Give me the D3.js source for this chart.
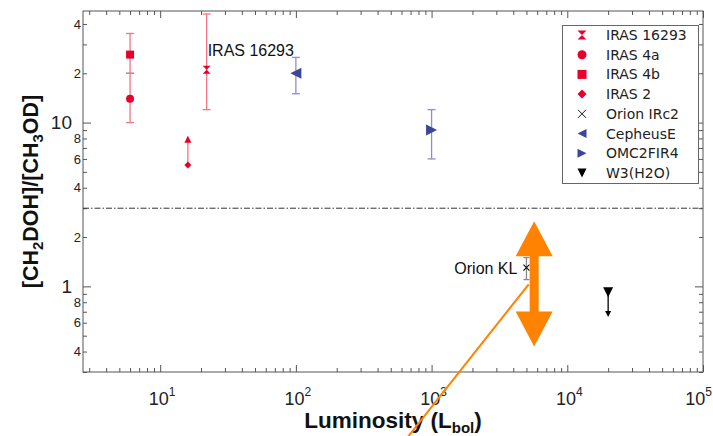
<!DOCTYPE html>
<html>
<head>
<meta charset="utf-8">
<script src="https://cdn.jsdelivr.net/npm/d3@7"></script>
<style>
  body { margin: 0; background: #fff; }
  svg { display: block; }
</style>
</head>
<body>
<svg id="chart" width="713" height="436"></svg>
<script>
// ---- data ----
const sources    = ["IRAS 16293", "IRAS 4a", "IRAS 4b", "IRAS 2", "Orion IRc2", "CepheusE", "OMC2FIR4", "W3(H2O)"];
const luminosity = [22, 6, 6, 16, 5000, 100, 1000, 20000];
const ratio      = [21, 14, 26, 5.5, 1.3, 20, 9, 0.92];
const ratioLow   = [12, 10, 20, null, 1.1, 15, 6, null];
const ratioHigh  = [46, 20, 35, null, 1.5, 25, 12, null];
// limit arrows: lower limit (points up) / upper limit (points down)
const limitEnd   = [null, null, null, 8.3, null, null, null, 0.65];
const symbols    = ["hourglass", "circle", "square", "diamond", "cross", "triLeft", "triRight", "triDown"];
const markColor  = ["#e6002a", "#e6002a", "#e6002a", "#e6002a", "#111", "#3c4599", "#3c4599", "#000"];
const barColor   = ["#f07586", "#f07586", "#f07586", "#f07586", "#8a8a8a", "#8e8ecc", "#8e8ecc", "#000"];

const xTickMajor  = [10, 100, 1000, 10000, 100000];
const xTickExp    = ["1", "2", "3", "4", "5"];
const yTickBig    = [1, 10];
const yTickBigLbl = ["1", "10"];
const yTickSmall  = [0.4, 0.6, 0.8, 2, 4, 6, 8, 20, 40];
const yTickSmallLbl = ["4", "6", "8", "2", "4", "6", "8", "2", "4"];
const thresholdRatio = 3;

const pointLabels = [
  { text: "IRAS 16293", L: 22, v: 25.5, anchor: "start", dx: 1 },
  { text: "Orion KL",   L: 5000, v: 1.19, anchor: "end", dx: -9 }
];

// highlighted range arrow and pointer line
const rangeArrow = { L: 5700, top: 2.5, bottom: 0.43 };
const pointerLine = [[5200, 1.03], [640, 0.115]];

// ---- layout ----
const W = 713, H = 436;
const m = { left: 83, right: 10, top: 11, bottom: 64 };
const svg = d3.select("#chart");

const x = d3.scaleLog().domain([2.7, 1e5]).range([m.left, W - m.right]);
const y = d3.scaleLog().domain([0.3, 48]).range([H - m.bottom, m.top]);

const x0 = m.left, x1 = W - m.right, y0 = H - m.bottom, y1 = m.top;
const axisColor = "#555";

// minor tick values for a log domain
function logTicks(domain) {
  const out = [];
  const lo = Math.floor(Math.log10(domain[0])), hi = Math.ceil(Math.log10(domain[1]));
  for (let e = lo; e <= hi; e++) {
    for (let k = 1; k <= 9; k++) {
      const v = k * Math.pow(10, e);
      if (v >= domain[0] * 0.9999 && v <= domain[1] * 1.0001) out.push(+v.toPrecision(6));
    }
  }
  return out;
}
const xAll = logTicks(x.domain());
const yAll = logTicks(y.domain());
const isDecade = v => Math.abs(Math.log10(v) - Math.round(Math.log10(v))) < 1e-6;
const xMinor = xAll.filter(v => !isDecade(v));
const yMinor = yAll.filter(v => !isDecade(v));

function styleAxis(g) {
  g.select(".domain").remove();
  g.selectAll("line").attr("stroke", axisColor).attr("stroke-width", 1);
  g.selectAll("text").remove();
}

// inward ticks on all four sides
svg.append("g").attr("transform", `translate(0,${y0})`)
  .call(d3.axisBottom(x).tickValues(xMinor).tickSize(-4).tickFormat("")).call(styleAxis);
svg.append("g").attr("transform", `translate(0,${y0})`)
  .call(d3.axisBottom(x).tickValues(xTickMajor).tickSize(-7).tickFormat("")).call(styleAxis);
svg.append("g").attr("transform", `translate(0,${y1})`)
  .call(d3.axisTop(x).tickValues(xMinor).tickSize(-4).tickFormat("")).call(styleAxis);
svg.append("g").attr("transform", `translate(0,${y1})`)
  .call(d3.axisTop(x).tickValues(xTickMajor).tickSize(-7).tickFormat("")).call(styleAxis);
svg.append("g").attr("transform", `translate(${x0},0)`)
  .call(d3.axisLeft(y).tickValues(yMinor).tickSize(-4).tickFormat("")).call(styleAxis);
svg.append("g").attr("transform", `translate(${x0},0)`)
  .call(d3.axisLeft(y).tickValues(yTickBig).tickSize(-8).tickFormat("")).call(styleAxis);
svg.append("g").attr("transform", `translate(${x1},0)`)
  .call(d3.axisRight(y).tickValues(yMinor).tickSize(-4).tickFormat("")).call(styleAxis);
svg.append("g").attr("transform", `translate(${x1},0)`)
  .call(d3.axisRight(y).tickValues(yTickBig).tickSize(-8).tickFormat("")).call(styleAxis);

// frame
svg.append("rect").attr("x", x0).attr("y", y1).attr("width", x1 - x0).attr("height", y0 - y1)
  .attr("fill", "none").attr("stroke", axisColor).attr("stroke-width", 1);

// tick labels
const tickFont = "'Liberation Sans', Arial, sans-serif";
const xl = svg.append("g").attr("font-family", tickFont).attr("fill", "#222");
xTickMajor.forEach((v, i) => {
  // keep the last decade label inside the canvas edge
  const last = i === xTickMajor.length - 1;
  const t = xl.append("text")
    .attr("x", last ? W - 1 : x(v) + 2).attr("y", 405)
    .attr("text-anchor", last ? "end" : "middle").attr("font-size", 18);
  t.append("tspan").text("10");
  t.append("tspan").attr("font-size", 12).attr("dy", -9).text(xTickExp[i]);
});
const yl = svg.append("g").attr("font-family", tickFont).attr("fill", "#222");
yTickSmall.forEach((v, i) => {
  yl.append("text").attr("x", 81).attr("y", y(v)).attr("dy", "0.36em")
    .attr("text-anchor", "end").attr("font-size", 13).text(yTickSmallLbl[i]);
});
yTickBig.forEach((v, i) => {
  yl.append("text").attr("x", 72).attr("y", y(v)).attr("dy", "0.36em")
    .attr("text-anchor", "end").attr("font-size", 19).text(yTickBigLbl[i]);
});

// axis titles
const titleFont = "'Liberation Sans', Arial, sans-serif";
const xt = svg.append("text").attr("x", (x0 + x1) / 2).attr("y", 428).attr("text-anchor", "middle")
  .attr("font-family", titleFont).attr("font-weight", "bold").attr("font-size", 22.5).attr("fill", "#111");
xt.append("tspan").text("Luminosity (L");
xt.append("tspan").attr("font-size", 15).attr("dy", 5).text("bol");
xt.append("tspan").attr("dy", -5).text(")");

const yt = svg.append("text").attr("transform", `translate(38,${(y0 + y1) / 2}) rotate(-90)`)
  .attr("text-anchor", "middle").attr("font-family", titleFont).attr("font-weight", "bold")
  .attr("font-size", 21.5).attr("fill", "#111");
yt.append("tspan").text("[CH");
yt.append("tspan").attr("font-size", 15).attr("dy", 5).text("2");
yt.append("tspan").attr("dy", -5).text("DOH]/[CH");
yt.append("tspan").attr("font-size", 15).attr("dy", 5).text("3");
yt.append("tspan").attr("dy", -5).text("OD]");

// threshold line
svg.append("line").attr("x1", x0).attr("x2", x1).attr("y1", y(thresholdRatio)).attr("y2", y(thresholdRatio))
  .attr("stroke", "#333").attr("stroke-width", 1).attr("stroke-dasharray", "6,2,1.5,2");

// marker shapes
function symbolPath(kind, s) {
  const h = s / 2;
  switch (kind) {
    case "hourglass": return `M${-h},${-h}L${h},${-h}L0,0Z M${-h},${h}L${h},${h}L0,0Z`;
    case "circle": return d3.symbol(d3.symbolCircle, Math.PI * h * h)();
    case "square": return `M${-h},${-h}H${h}V${h}H${-h}Z`;
    case "diamond": return `M0,${-h}L${h},0L0,${h}L${-h},0Z`;
    case "cross": return `M${-h},${-h}L${h},${h}M${-h},${h}L${h},${-h}`;
    case "triLeft": return `M${-h},0L${h},${-h}L${h},${h}Z`;
    case "triRight": return `M${h},0L${-h},${-h}L${-h},${h}Z`;
    case "triDown": return `M${-h},${-h}L${h},${-h}L0,${h}Z`;
  }
}
const markSize = [8, 8, 8, 7, 6, 11, 11, 10];

const plot = svg.append("g");

// error bars
sources.forEach((s, i) => {
  if (ratioLow[i] == null) return;
  const cx = x(luminosity[i]);
  const cap = i === 4 ? 3 : 4;
  const g = plot.append("g").attr("stroke", barColor[i]).attr("stroke-width", 1.3);
  g.append("line").attr("x1", cx).attr("x2", cx).attr("y1", y(ratioLow[i])).attr("y2", y(ratioHigh[i]));
  g.append("line").attr("x1", cx - cap).attr("x2", cx + cap).attr("y1", y(ratioLow[i])).attr("y2", y(ratioLow[i]));
  g.append("line").attr("x1", cx - cap).attr("x2", cx + cap).attr("y1", y(ratioHigh[i])).attr("y2", y(ratioHigh[i]));
});

// limit arrows
sources.forEach((s, i) => {
  if (limitEnd[i] == null) return;
  const cx = x(luminosity[i]);
  const ya = y(ratio[i]), yb = y(limitEnd[i]);
  const dir = yb < ya ? -1 : 1;
  const col = i === 3 ? barColor[i] : markColor[i];
  plot.append("line").attr("x1", cx).attr("x2", cx).attr("y1", ya).attr("y2", yb - dir * 4)
    .attr("stroke", col).attr("stroke-width", 1.3);
  const hw = i === 3 ? 3.5 : 3, hl = i === 3 ? 7 : 6;
  plot.append("path")
    .attr("d", `M${cx},${yb}L${cx - hw},${yb - dir * hl}L${cx + hw},${yb - dir * hl}Z`)
    .attr("fill", markColor[i]);
});

// markers
sources.forEach((s, i) => {
  const p = plot.append("path")
    .attr("transform", `translate(${x(luminosity[i])},${y(ratio[i])})`)
    .attr("d", symbolPath(symbols[i], markSize[i]));
  if (symbols[i] === "cross") p.attr("fill", "none").attr("stroke", markColor[i]).attr("stroke-width", 1.2);
  else p.attr("fill", markColor[i]);
});

// point labels
pointLabels.forEach(d => {
  svg.append("text").attr("x", x(d.L) + d.dx).attr("y", y(d.v)).attr("text-anchor", d.anchor)
    .attr("font-family", tickFont).attr("font-size", 16).attr("fill", "#111").text(d.text);
});

// highlighted range arrow
(function () {
  const ax = x(rangeArrow.L), yt0 = y(rangeArrow.top), yb0 = y(rangeArrow.bottom);
  const hw = 18.5, hl = 35, sw = 4.5;
  const d = `M${ax},${yt0}L${ax + hw},${yt0 + hl}L${ax + sw},${yt0 + hl}L${ax + sw},${yb0 - hl}` +
            `L${ax + hw},${yb0 - hl}L${ax},${yb0}L${ax - hw},${yb0 - hl}L${ax - sw},${yb0 - hl}` +
            `L${ax - sw},${yt0 + hl}L${ax - hw},${yt0 + hl}Z`;
  svg.append("path").attr("d", d).attr("fill", "#ff8200");
  svg.append("line")
    .attr("x1", x(pointerLine[0][0])).attr("y1", y(pointerLine[0][1]))
    .attr("x2", x(pointerLine[1][0])).attr("y2", y(pointerLine[1][1]))
    .attr("stroke", "#ff8200").attr("stroke-width", 2);
})();

// legend
const lg = svg.append("g");
lg.append("rect").attr("x", 562.5).attr("y", 25.5).attr("width", 136).attr("height", 158)
  .attr("fill", "#fff").attr("stroke", "#666").attr("stroke-width", 1);
sources.forEach((s, i) => {
  const ly = 35 + i * 19.7;
  const p = lg.append("path").attr("transform", `translate(582,${ly})`)
    .attr("d", symbolPath(symbols[i], i === 4 ? 8 : 9));
  if (symbols[i] === "cross") p.attr("fill", "none").attr("stroke", markColor[i]).attr("stroke-width", 1);
  else p.attr("fill", markColor[i]);
  lg.append("text").attr("x", 606).attr("y", ly).attr("dy", "0.36em")
    .attr("font-family", "'DejaVu Sans', Verdana, sans-serif").attr("font-size", 14)
    .attr("fill", "#222").text(s);
});
</script>
</body>
</html>
